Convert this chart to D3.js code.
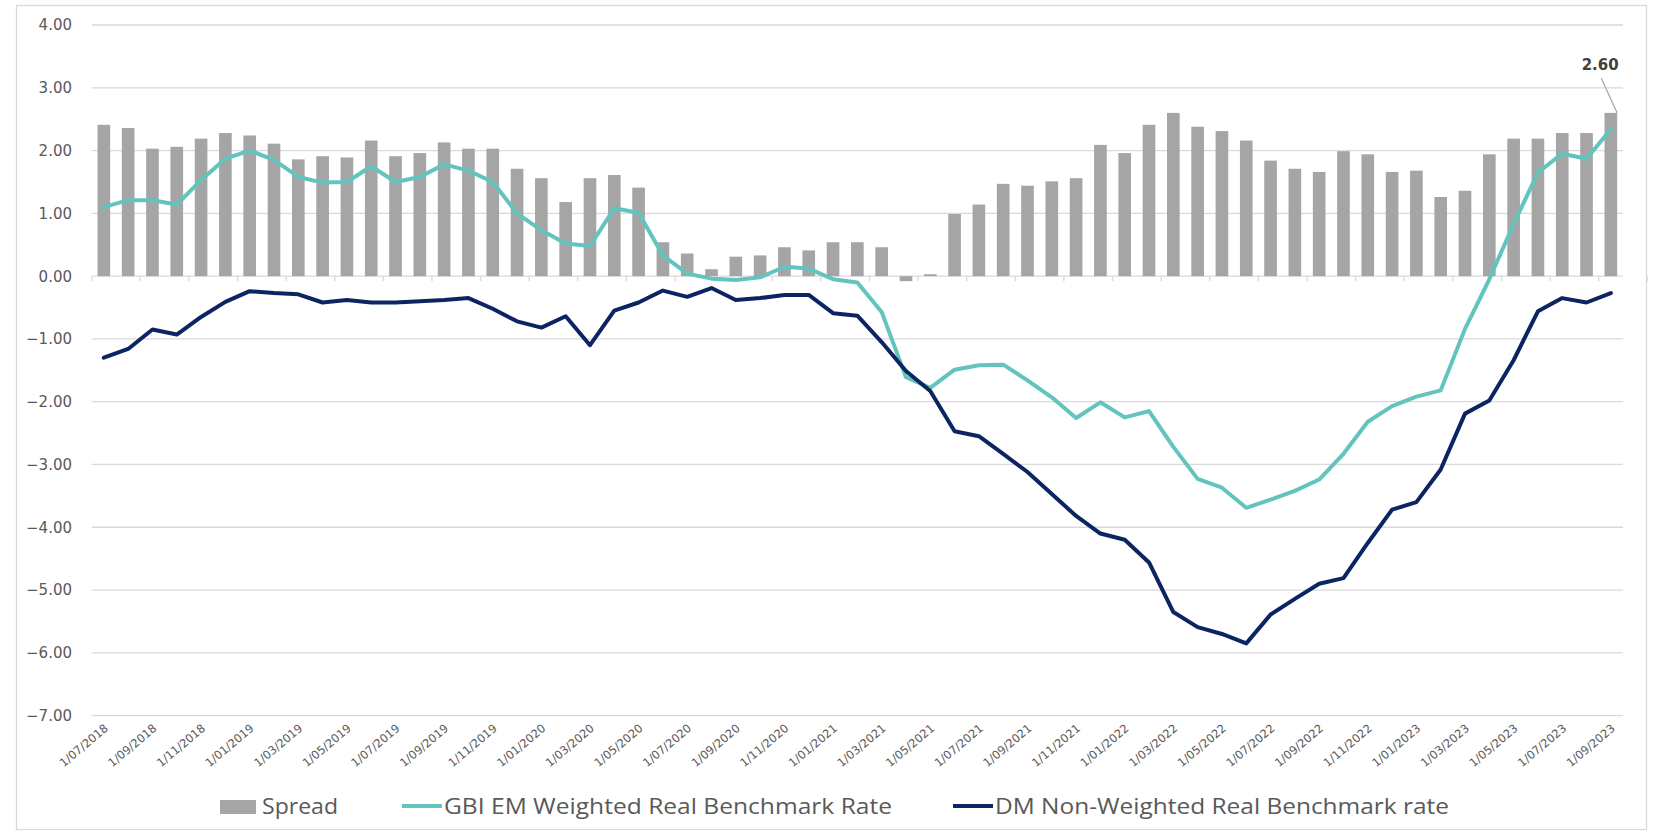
<!DOCTYPE html>
<html>
<head>
<meta charset="utf-8">
<script src="https://cdn.jsdelivr.net/npm/d3@7"></script>
<style>
  html, body { margin: 0; padding: 0; background: #fff; }
  .chart text { fill: #595959; font-family: "DejaVu Sans", Verdana, sans-serif; }
  .chart .legend text { font-family: "Open Sans", "Liberation Sans", sans-serif; }
</style>
</head>
<body>
<div id="chart"></div>
<script>
const months = [
  '1/07/2018', '1/08/2018', '1/09/2018', '1/10/2018', '1/11/2018', '1/12/2018',
  '1/01/2019', '1/02/2019', '1/03/2019', '1/04/2019', '1/05/2019', '1/06/2019',
  '1/07/2019', '1/08/2019', '1/09/2019', '1/10/2019', '1/11/2019', '1/12/2019',
  '1/01/2020', '1/02/2020', '1/03/2020', '1/04/2020', '1/05/2020', '1/06/2020',
  '1/07/2020', '1/08/2020', '1/09/2020', '1/10/2020', '1/11/2020', '1/12/2020',
  '1/01/2021', '1/02/2021', '1/03/2021', '1/04/2021', '1/05/2021', '1/06/2021',
  '1/07/2021', '1/08/2021', '1/09/2021', '1/10/2021', '1/11/2021', '1/12/2021',
  '1/01/2022', '1/02/2022', '1/03/2022', '1/04/2022', '1/05/2022', '1/06/2022',
  '1/07/2022', '1/08/2022', '1/09/2022', '1/10/2022', '1/11/2022', '1/12/2022',
  '1/01/2023', '1/02/2023', '1/03/2023', '1/04/2023', '1/05/2023', '1/06/2023',
  '1/07/2023', '1/08/2023', '1/09/2023'
]

// spread = EM - DM
const spread = [
  2.41, 2.36, 2.03, 2.06, 2.19, 2.28, 2.24, 2.11, 1.86, 1.91,
  1.89, 2.16, 1.91, 1.96, 2.13, 2.03, 2.03, 1.71, 1.56, 1.18,
  1.56, 1.61, 1.41, 0.54, 0.36, 0.11, 0.31, 0.33, 0.46, 0.41,
  0.54, 0.54, 0.46, -0.08, 0.03, 0.99, 1.14, 1.47, 1.44, 1.51,
  1.56, 2.09, 1.96, 2.41, 2.60, 2.38, 2.31, 2.16, 1.84, 1.71,
  1.66, 1.99, 1.94, 1.66, 1.68, 1.26, 1.36, 1.94, 2.19, 2.19,
  2.28, 2.28, 2.60
]

const emRate = [
  1.10, 1.21, 1.21, 1.14, 1.53, 1.87, 2.00, 1.85, 1.58, 1.49,
  1.50, 1.75, 1.50, 1.58, 1.78, 1.68, 1.50, 1.00, 0.73, 0.52,
  0.48, 1.08, 1.01, 0.33, 0.04, -0.04, -0.06, -0.02, 0.15, 0.12,
  -0.05, -0.10, -0.57, -1.61, -1.78, -1.49, -1.42, -1.41, -1.66, -1.93,
  -2.26, -2.01, -2.25, -2.15, -2.72, -3.23, -3.37, -3.69, -3.56, -3.42,
  -3.24, -2.83, -2.32, -2.07, -1.92, -1.82, -0.84, -0.05, 0.83, 1.65,
  1.95, 1.87, 2.34
]

const dmRate = [
  -1.30, -1.16, -0.85, -0.93, -0.65, -0.41, -0.24, -0.27, -0.29, -0.42,
  -0.38, -0.42, -0.42, -0.40, -0.38, -0.35, -0.52, -0.72, -0.82, -0.64,
  -1.10, -0.55, -0.42, -0.23, -0.33, -0.19, -0.38, -0.35, -0.30, -0.30,
  -0.59, -0.63, -1.05, -1.51, -1.83, -2.47, -2.55, -2.83, -3.12, -3.47,
  -3.82, -4.10, -4.20, -4.56, -5.35, -5.59, -5.70, -5.85, -5.39, -5.14,
  -4.90, -4.81, -4.25, -3.72, -3.60, -3.08, -2.19, -1.98, -1.34, -0.56,
  -0.35, -0.42, -0.27
]

const yTicks = [4, 3, 2, 1, 0, -1, -2, -3, -4, -5, -6, -7]

const colors = {
  bar: '#a5a5a5',
  em: '#62c4bc',
  dm: '#0b2462',
  grid: '#d9d9d9'
}

const W = 1655
const H = 832
const plot = { left: 91.7, right: 1623, top: 25, bottom: 715.6 }

const svg = d3.select('#chart').append('svg')
  .attr('class', 'chart')
  .attr('width', W)
  .attr('height', H)

svg.append('rect')
  .attr('x', 16.5).attr('y', 5.5)
  .attr('width', 1630).attr('height', 824)
  .attr('fill', 'none')
  .attr('stroke', colors.grid)
  .attr('stroke-width', 1.3)

const x = d3.scaleBand()
  .domain(months)
  .range([plot.left, plot.right])
  .paddingInner(0.48)
  .paddingOuter(0.24)

const y = d3.scaleLinear()
  .domain([-7, 4])
  .range([plot.bottom, plot.top])

const cx = d => x(d) + x.bandwidth() / 2

// gridlines
svg.append('g')
  .selectAll('line').data(yTicks)
  .enter().append('line')
  .attr('x1', plot.left)
  .attr('x2', plot.right)
  .attr('y1', d => y(d))
  .attr('y2', d => y(d))
  .attr('stroke', colors.grid)
  .attr('stroke-width', 1.3)

// y labels
svg.append('g')
  .selectAll('text').data(yTicks)
  .enter().append('text')
  .attr('x', 72)
  .attr('y', d => y(d))
  .attr('dy', '0.36em')
  .attr('text-anchor', 'end')
  .style('font-size', '15px')
  .text(d => d3.format('.2f')(d))

// small tick marks on zero line, every 2 categories
const step = x.step()
svg.append('g')
  .selectAll('line').data(months.filter((d, i) => i % 2 === 0).concat(['end']))
  .enter().append('line')
  .attr('x1', (d, i) => plot.left + i * 2 * step)
  .attr('x2', (d, i) => plot.left + i * 2 * step)
  .attr('y1', y(0))
  .attr('y2', y(0) + 5)
  .attr('stroke', colors.grid)
  .attr('stroke-width', 1.3)

// bars
svg.append('g')
  .selectAll('rect').data(spread)
  .enter().append('rect')
  .attr('x', (d, i) => x(months[i]))
  .attr('width', x.bandwidth())
  .attr('y', d => y(Math.max(0, d)))
  .attr('height', d => Math.abs(y(d) - y(0)))
  .attr('fill', colors.bar)

const line = d3.line()
  .x((d, i) => cx(months[i]))
  .y(d => y(d))

svg.append('path')
  .datum(emRate)
  .attr('d', line)
  .attr('fill', 'none')
  .attr('stroke', colors.em)
  .attr('stroke-width', 4)
  .attr('stroke-linejoin', 'round')
  .attr('stroke-linecap', 'round')

svg.append('path')
  .datum(dmRate)
  .attr('d', line)
  .attr('fill', 'none')
  .attr('stroke', colors.dm)
  .attr('stroke-width', 4)
  .attr('stroke-linejoin', 'round')
  .attr('stroke-linecap', 'round')

// data label on the last bar
const last = spread.length - 1
const lastX = x(months[last]) + x.bandwidth()
const lastY = y(spread[last])
svg.append('line')
  .attr('x1', lastX - 16).attr('y1', lastY - 35)
  .attr('x2', lastX).attr('y2', lastY)
  .attr('stroke', '#a6a6a6')
  .attr('stroke-width', 1.2)
svg.append('text')
  .attr('x', lastX - 17)
  .attr('y', lastY - 43)
  .attr('text-anchor', 'middle')
  .style('font-size', '15px')
  .style('font-weight', 'bold')
  .style('fill', '#404040')
  .text(d3.format('.2f')(spread[last]))

// x labels, every 2nd month, rotated
svg.append('g')
  .selectAll('text').data(months.filter((d, i) => i % 2 === 0))
  .enter().append('text')
  .attr('transform', d => `translate(${cx(d) + 5},${plot.bottom + 14}) rotate(-40)`)
  .attr('text-anchor', 'end')
  .style('font-size', '11.5px')
  .text(d => d)

// legend
const legend = svg.append('g').attr('class', 'legend')
legend.append('rect')
  .attr('x', 220).attr('y', 800)
  .attr('width', 36).attr('height', 14)
  .attr('fill', colors.bar)
legend.append('text')
  .attr('x', 262).attr('y', 813.5)
  .attr('textLength', 76).attr('lengthAdjust', 'spacingAndGlyphs')
  .style('font-size', '21px')
  .text('Spread')

legend.append('line')
  .attr('x1', 402).attr('x2', 442).attr('y1', 806).attr('y2', 806)
  .attr('stroke', colors.em).attr('stroke-width', 4)
legend.append('text')
  .attr('x', 444).attr('y', 813.5)
  .attr('textLength', 448).attr('lengthAdjust', 'spacingAndGlyphs')
  .style('font-size', '21px')
  .text('GBI EM Weighted Real Benchmark Rate')

legend.append('line')
  .attr('x1', 953).attr('x2', 993).attr('y1', 806).attr('y2', 806)
  .attr('stroke', colors.dm).attr('stroke-width', 4)
legend.append('text')
  .attr('x', 995).attr('y', 813.5)
  .attr('textLength', 454).attr('lengthAdjust', 'spacingAndGlyphs')
  .style('font-size', '21px')
  .text('DM Non-Weighted Real Benchmark rate')
</script>
</body>
</html>
